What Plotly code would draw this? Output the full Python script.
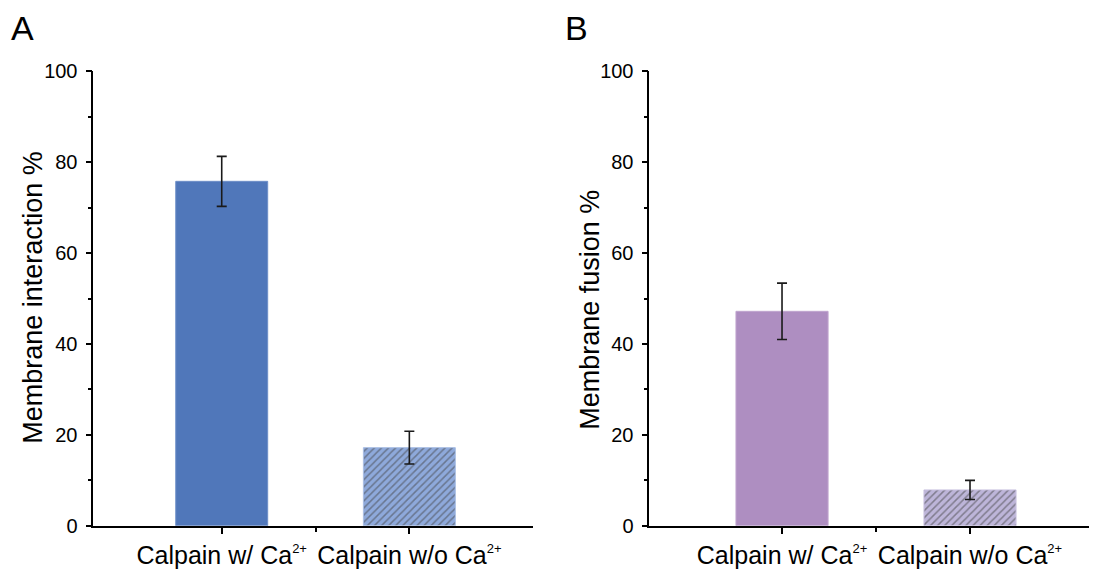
import plotly.graph_objects as go

categories = ["Calpain w/ Ca<sup><span style=\"font-size:13px\">2+</span></sup>",
              "Calpain w/o Ca<sup><span style=\"font-size:13px\">2+</span></sup>"]
positions = [1, 2]
interaction_vals = [75.8, 17.2]
interaction_err = [5.5, 3.6]
fusion_vals = [47.2, 7.9]
fusion_err = [6.2, 2.1]

FONT = "Liberation Sans, Arial, sans-serif"

W, H = 1097, 574
# empirical pixel -> paper mapping (compensates page offset)
XOFF = 8.0
TOP, PH = 17.9, 554.5


def px(x):
    return (x - XOFF) / W


def py(y):
    return 1 - (y - TOP) / PH


fig = go.Figure()

fig.add_trace(go.Bar(
    x=positions, y=interaction_vals, width=0.49,
    marker=dict(color=["#5077BA", "#8EA9DB"], line=dict(color=["#6E8FC8", "#A9BEE3"], width=1),
                pattern=dict(shape=["", "/"], fgcolor="#1F2A40", size=5, solidity=0.3)),
    error_y=dict(type="data", array=interaction_err, color="#1a1a1a", thickness=1.6, width=5),
    xaxis="x", yaxis="y", showlegend=False))

fig.add_trace(go.Bar(
    x=positions, y=fusion_vals, width=0.49,
    marker=dict(color=["#AE8EC1", "#BDB5D9"], line=dict(color=["#C0A6CF", "#CCC5E2"], width=1),
                pattern=dict(shape=["", "/"], fgcolor="#2E2A40", size=5, solidity=0.3)),
    error_y=dict(type="data", array=fusion_err, color="#1a1a1a", thickness=1.6, width=5),
    xaxis="x2", yaxis="y2", showlegend=False))

y_dom = [py(527), py(70.5)]

xcommon = dict(tickmode="array", tickvals=positions, ticktext=categories, tickangle=0,
               showline=True, linecolor="black", linewidth=1.6, ticks="outside",
               ticklen=6, tickwidth=1.5, tickcolor="black", showgrid=False, zeroline=False,
               tickfont=dict(family=FONT, size=25, color="black"),
               minor=dict(tickmode="array", tickvals=[1.5], ticks="outside", ticklen=4,
                          tickwidth=1.5, tickcolor="black", showgrid=False))
ycommon = dict(range=[0, 100], tickmode="array", tickvals=[0, 20, 40, 60, 80, 100],
               showline=True, linecolor="black", linewidth=1.6, ticks="outside",
               ticklen=6, tickwidth=1.5, tickcolor="black", showgrid=False, zeroline=False,
               ticklabelstandoff=4,
               tickfont=dict(family=FONT, size=20, color="black"),
               minor=dict(tickmode="array", tickvals=[10, 30, 50, 70, 90], ticks="outside",
                          ticklen=4, tickwidth=1.5, tickcolor="black", showgrid=False))

b_right_px = W + XOFF
fig.update_layout(
    width=W, height=H, autosize=False,
    margin=dict(l=0, r=0, t=0, b=0),
    paper_bgcolor="white", plot_bgcolor="white",
    font=dict(family=FONT, color="black"),
    xaxis=dict(domain=[px(93.3), px(533)], range=[0.3156, 2.659], anchor="y", **xcommon),
    yaxis=dict(domain=y_dom, anchor="x", **ycommon),
    xaxis2=dict(domain=[px(649.3), 1.0], range=[0.294, 2 + (b_right_px - 970) / 188], anchor="y2", **xcommon),
    yaxis2=dict(domain=y_dom, anchor="x2", **ycommon),
    annotations=[
        dict(text="A", x=px(22), y=py(27), xref="paper", yref="paper", showarrow=False,
             xanchor="center", yanchor="middle", font=dict(family=FONT, size=34)),
        dict(text="B", x=px(577), y=py(27), xref="paper", yref="paper", showarrow=False,
             xanchor="center", yanchor="middle", font=dict(family=FONT, size=34)),
        dict(text="Membrane interaction %", x=px(33), y=py(298), xref="paper", yref="paper",
             showarrow=False, textangle=-90, xanchor="center", yanchor="middle",
             font=dict(family=FONT, size=27)),
        dict(text="Membrane fusion %", x=px(590), y=py(310), xref="paper", yref="paper",
             showarrow=False, textangle=-90, xanchor="center", yanchor="middle",
             font=dict(family=FONT, size=27)),
    ],
)

fig.write_html("out.html")
